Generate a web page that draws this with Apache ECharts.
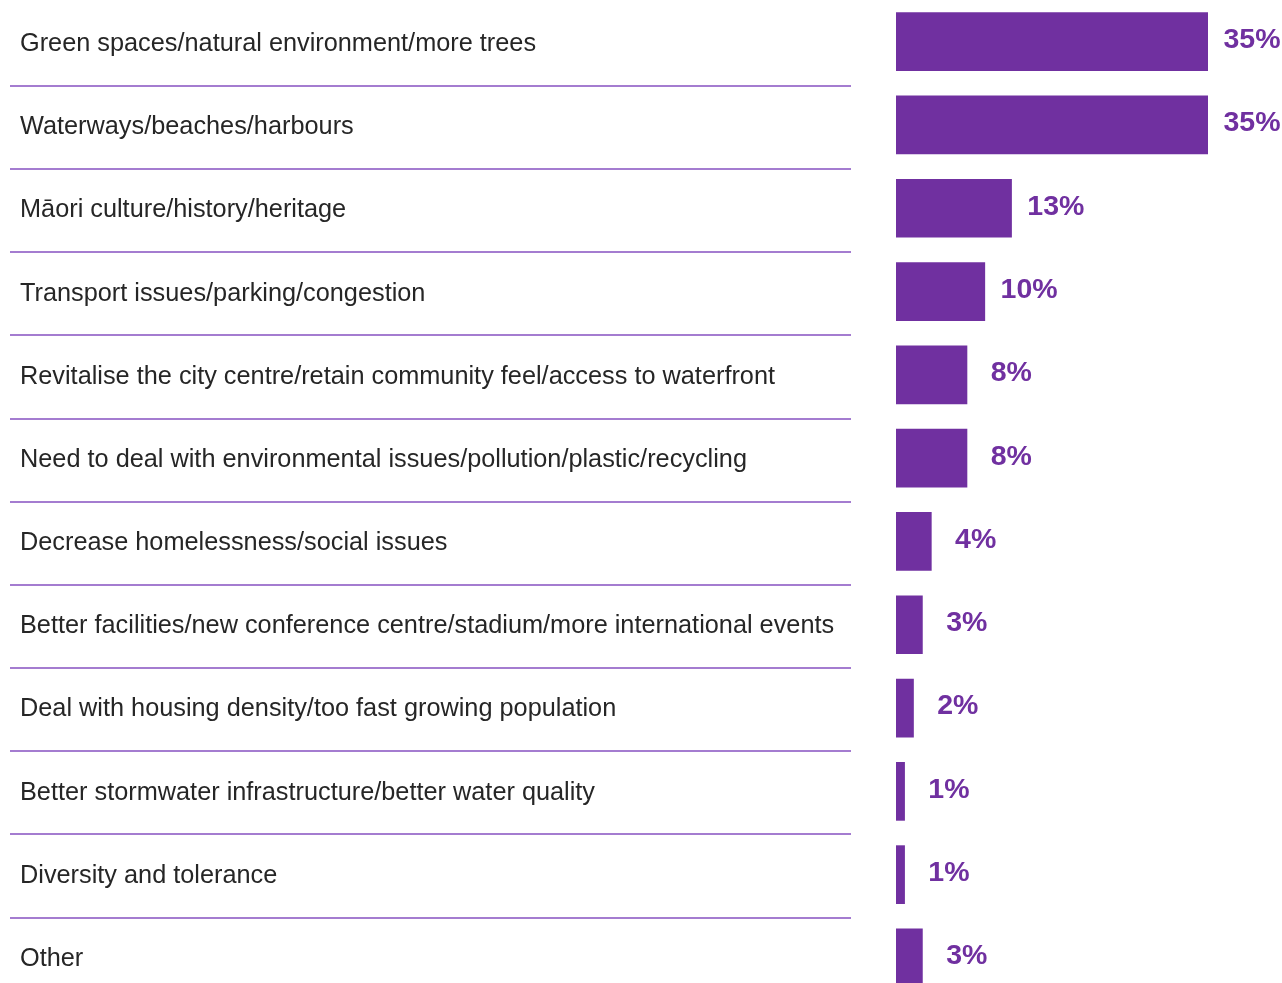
<!DOCTYPE html>
<html>
<head>
<meta charset="utf-8">
<style>
  html, body { margin: 0; padding: 0; background: #ffffff; overflow: hidden; }
  /* the last row runs past the bottom of the window */
  #chart { width: 1282px; height: 1002px; }
</style>
<script src="https://cdn.jsdelivr.net/npm/echarts@6/dist/echarts.min.js"></script>
</head>
<body>
<div id="chart"></div>
<script>
// Share of mentions per theme (%)
const categories = [
  'Green spaces/natural environment/more trees',
  'Waterways/beaches/harbours',
  'Māori culture/history/heritage',
  'Transport issues/parking/congestion',
  'Revitalise the city centre/retain community feel/access to waterfront',
  'Need to deal with environmental issues/pollution/plastic/recycling',
  'Decrease homelessness/social issues',
  'Better facilities/new conference centre/stadium/more international events',
  'Deal with housing density/too fast growing population',
  'Better stormwater infrastructure/better water quality',
  'Diversity and tolerance',
  'Other'
];
const shares = [35, 35, 13, 10, 8, 8, 4, 3, 2, 1, 1, 3];

const PURPLE = '#7030a0';
const FONT = '"Liberation Sans", Arial, Helvetica, sans-serif';

const chart = echarts.init(document.getElementById('chart'), null, { renderer: 'canvas' });

chart.setOption({
  animation: false,
  backgroundColor: '#ffffff',
  grid: [
    // bars
    { left: 896, width: 312, top: -0.4, height: 1000, containLabel: false },
    // category text and row separators
    { left: 10, width: 841, top: 2.5, height: 998, containLabel: false }
  ],
  xAxis: [
    { gridIndex: 0, type: 'value', min: 0, max: 35, show: false },
    { gridIndex: 1, type: 'value', min: 0, max: 1, show: false }
  ],
  yAxis: [
    {
      gridIndex: 0, type: 'category', data: categories, inverse: true,
      axisLine: { show: false }, axisTick: { show: false },
      axisLabel: { show: false }, splitLine: { show: false }
    },
    {
      gridIndex: 1, type: 'category', data: categories, inverse: true,
      axisLine: { show: false }, axisTick: { show: false },
      axisLabel: {
        show: true, inside: true, margin: 10, align: 'left',
        padding: [3, 0, 0, 0],
        fontFamily: FONT, fontSize: 25.3, color: '#262626'
      },
      splitLine: {
        show: true,
        interval: function (index) { return index > 0; },
        lineStyle: { color: '#8650c0', width: 1.5 }
      }
    }
  ],
  series: [
    {
      type: 'bar',
      xAxisIndex: 0, yAxisIndex: 0,
      data: shares,
      barWidth: 58.7,
      itemStyle: { color: PURPLE },
      label: {
        show: true,
        position: 'right',
        distance: 44,
        align: 'center',
        offset: [0, -1.5],
        formatter: '{c}%',
        fontFamily: FONT,
        fontWeight: 'bold',
        fontSize: 28.5,
        color: PURPLE
      }
    }
  ]
});
</script>
</body>
</html>
